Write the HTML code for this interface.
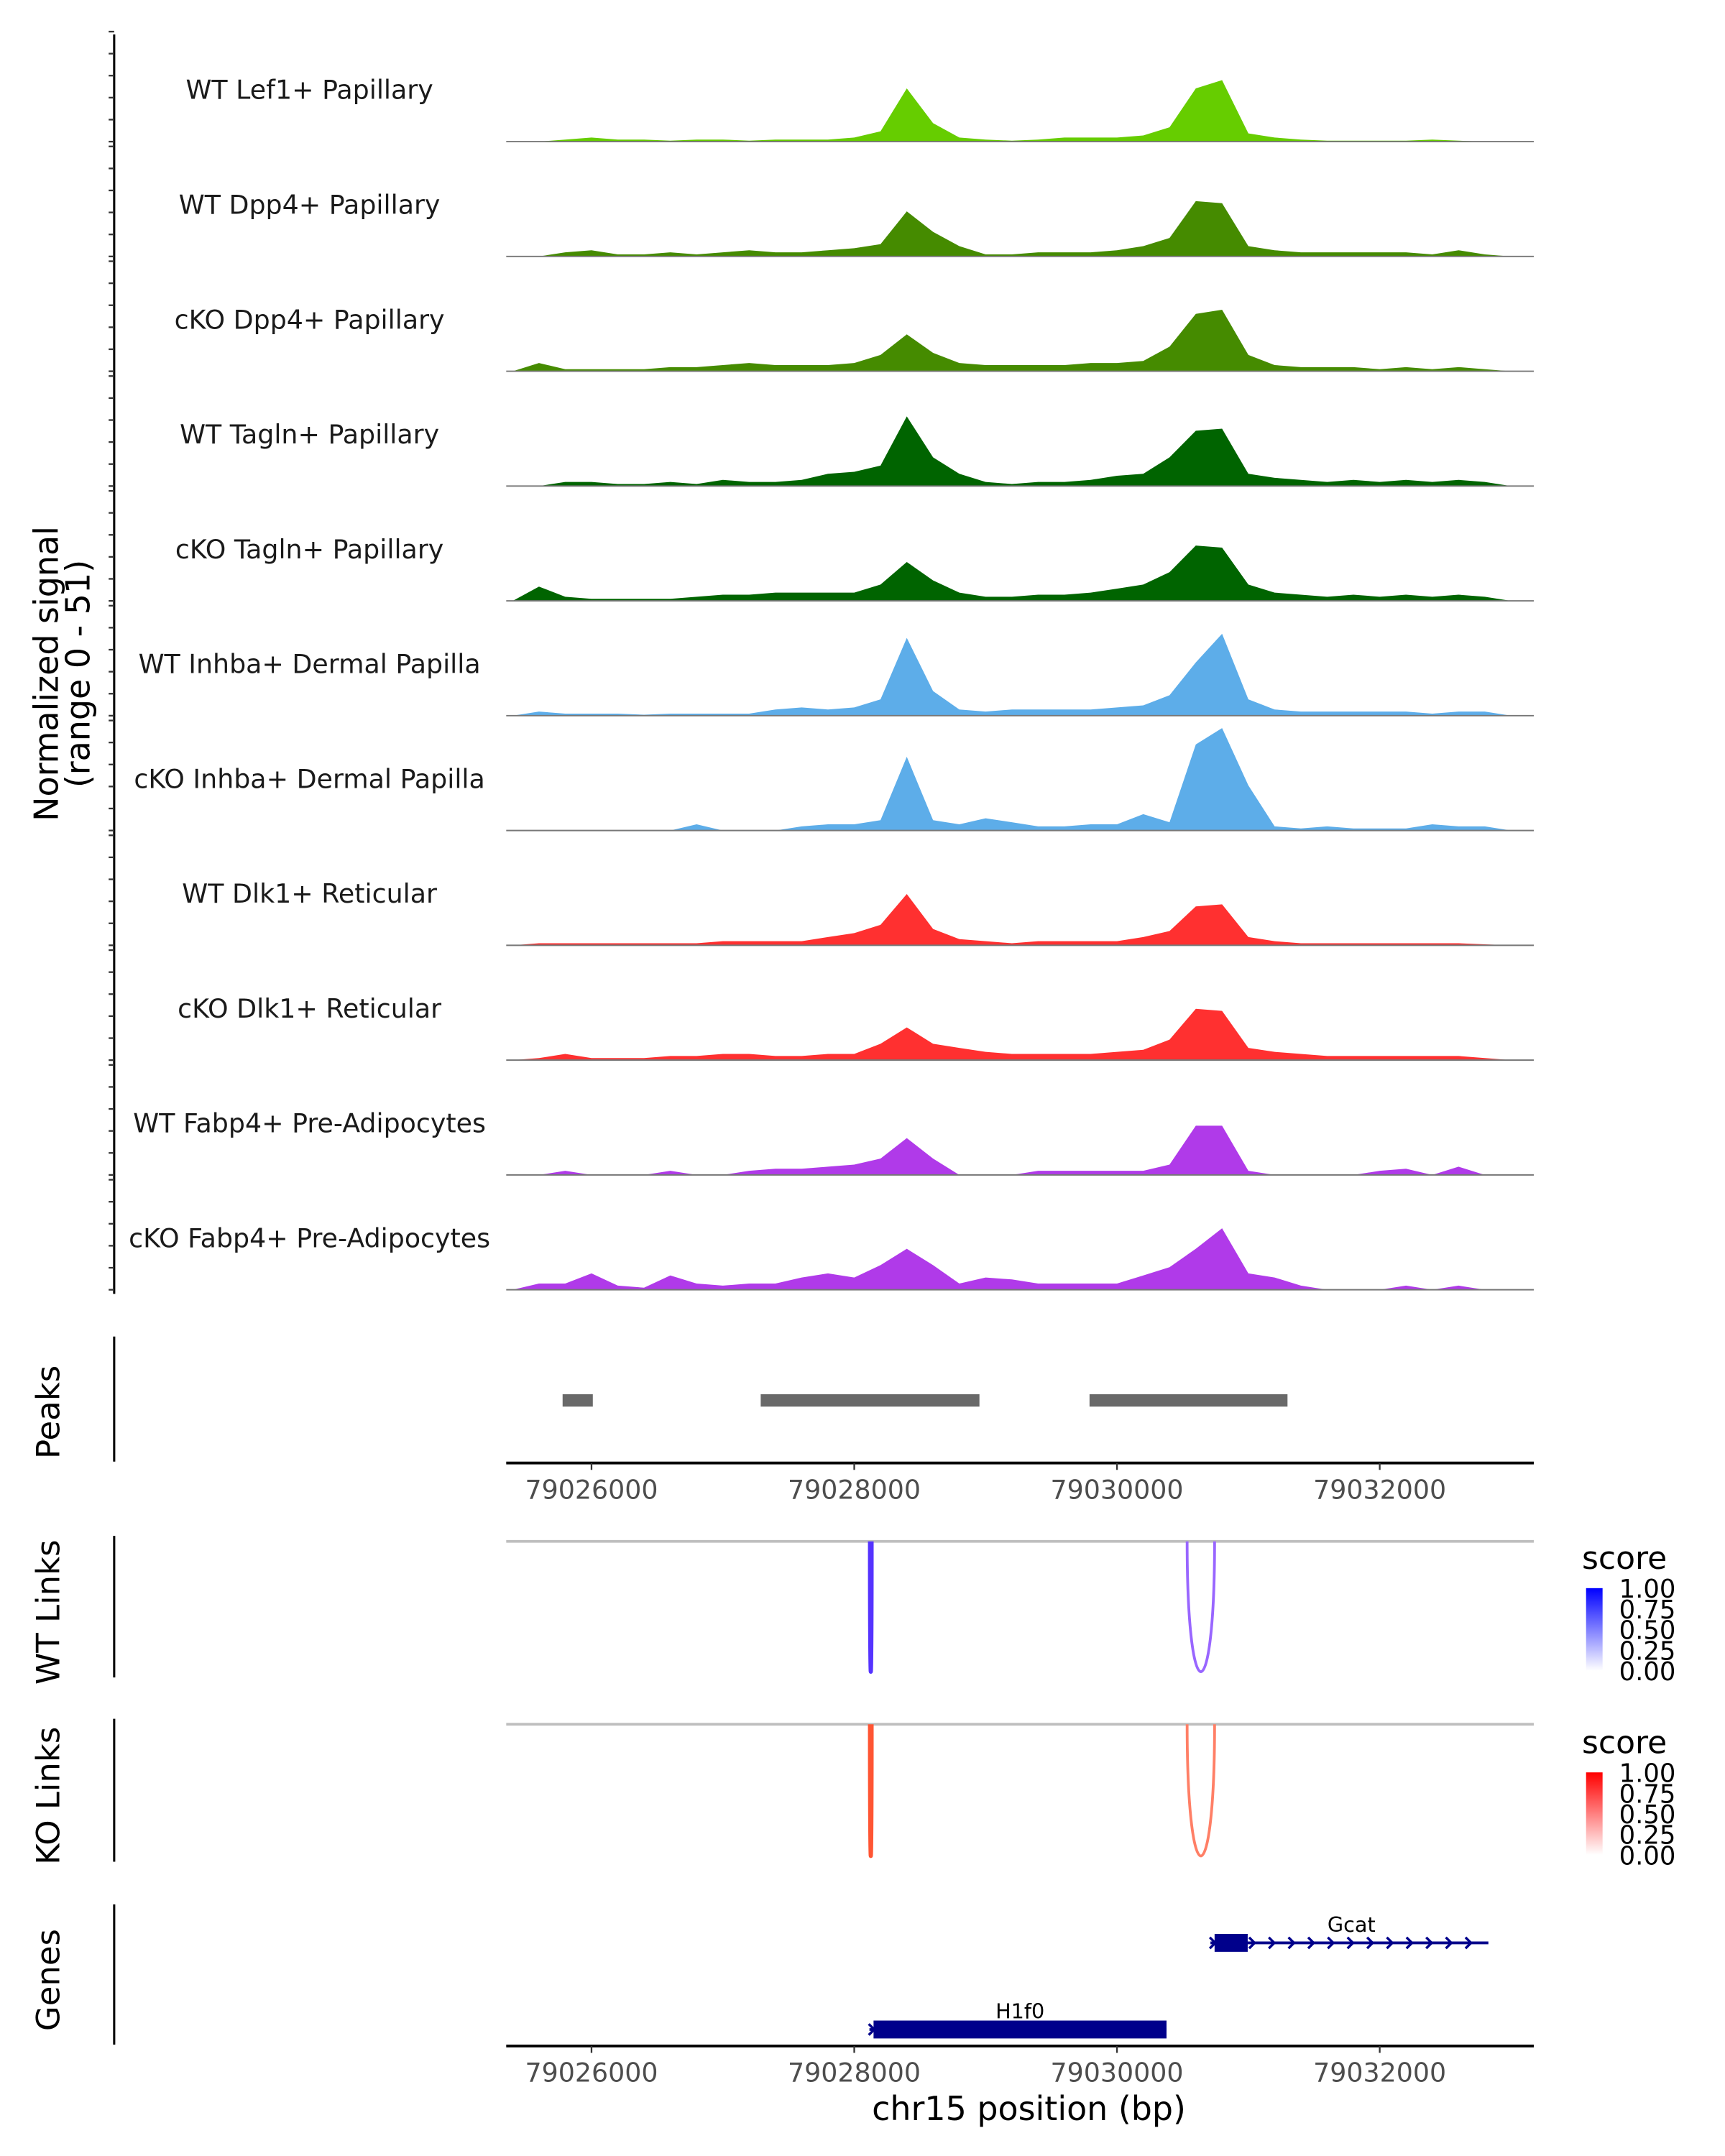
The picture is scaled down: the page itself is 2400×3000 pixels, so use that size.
<!DOCTYPE html>
<html><head><meta charset="utf-8">
<style>
html,body{margin:0;padding:0;background:#fff;}
svg{display:block;font-family:"DejaVu Sans","Liberation Sans",sans-serif;}
</style></head>
<body>
<svg id="chart" width="2400" height="3000" viewBox="0 0 1254 1568" preserveAspectRatio="none" xmlns="http://www.w3.org/2000/svg"></svg>
<script>
// ---- data ----
const binStart = 79025400;
const binSize = 200;
const trackNames = ["WT Lef1+ Papillary","WT Dpp4+ Papillary","cKO Dpp4+ Papillary","WT Tagln+ Papillary","cKO Tagln+ Papillary","WT Inhba+ Dermal Papilla","cKO Inhba+ Dermal Papilla","WT Dlk1+ Reticular","cKO Dlk1+ Reticular","WT Fabp4+ Pre-Adipocytes","cKO Fabp4+ Pre-Adipocytes"];
const trackColors = ["#66cd00","#458b00","#458b00","#006400","#006400","#5dade9","#5dade9","#ff3030","#ff3030","#b03ae9","#b03ae9"];
const sigLef1WT = [0,0,1,2,1,1,0.5,1,1,0.5,1,1,1,2,5,26,9,2,1,0.5,1,2,2,2,3,7,26,30,4,2,1,0.5,0.5,0.5,0.5,1,0.5,0,0];
const sigDpp4WT = [0,0,2,3,1,1,2,1,2,3,2,2,3,4,6,22,12,5,1,1,2,2,2,3,5,9,27,26,5,3,2,2,2,2,2,1,3,1,0];
const sigDpp4KO = [0,4,1,1,1,1,2,2,3,4,3,3,3,4,8,18,9,4,3,3,3,3,4,4,5,12,28,30,8,3,2,2,2,1,2,1,2,1,0];
const sigTaglnWT = [0,0,2,2,1,1,2,1,3,2,2,3,6,7,10,34,14,6,2,1,2,2,3,5,6,14,27,28,6,4,3,2,3,2,3,2,3,2,0];
const sigTaglnKO = [0,7,2,1,1,1,1,2,3,3,4,4,4,4,8,19,10,4,2,2,3,3,4,6,8,14,27,26,8,4,3,2,3,2,3,2,3,2,0];
const sigInhbaWT = [0,2,1,1,1,0.5,1,1,1,1,3,4,3,4,8,38,12,3,2,3,3,3,3,4,5,10,26,40,8,3,2,2,2,2,2,1,2,2,0];
const sigInhbaKO = [0,0,0,0,0,0,0,3,0,0,0,2,3,3,5,36,5,3,6,4,2,2,3,3,8,4,42,50,22,2,1,2,1,1,1,3,2,2,0];
const sigDlk1WT = [0,1,1,1,1,1,1,1,2,2,2,2,4,6,10,25,8,3,2,1,2,2,2,2,4,7,19,20,4,2,1,1,1,1,1,1,1,0.5,0];
const sigDlk1KO = [0,1,3,1,1,1,2,2,3,3,2,2,3,3,8,16,8,6,4,3,3,3,3,4,5,10,25,24,6,4,3,2,2,2,2,2,2,1,0];
const sigFabp4WT = [0,0,2,0,0,0,2,0,0,2,3,3,4,5,8,18,8,0,0,0,2,2,2,2,2,5,24,24,2,0,0,0,0,2,3,0,4,0,0];
const sigFabp4KO = [0,3,3,8,2,1,7,3,2,3,3,6,8,6,12,20,12,3,6,5,3,3,3,3,7,11,20,30,8,6,2,0,0,0,2,0,2,0,0];
const signals = [sigLef1WT,sigDpp4WT,sigDpp4KO,sigTaglnWT,sigTaglnKO,sigInhbaWT,sigInhbaKO,sigDlk1WT,sigDlk1KO,sigFabp4WT,sigFabp4KO];
const peakStarts = [79025780,79027288,79029791];
const peakEnds = [79026010,79028953,79031298];
const xTicks = [79026000,79028000,79030000,79032000];
const linkStarts = [79028120,79030534];
const linkEnds = [79028132,79030743];
const wtScores = [0.9,0.6];
const koScores = [0.8,0.6];
const geneNames = ["Gcat","H1f0"];
const geneStarts = [79030743,79028147];
const geneEnds = [79032827,79030377];
const exonEnds = [79030995,79030377];
const legendLabels = ["1.00","0.75","0.50","0.25","0.00"];

// ---- scales ----
const X0 = 79026000, PX0 = 430, PXPB = 0.0955;
const xs = bp => PX0 + (bp - X0) * PXPB;
const plotL = 368, plotR = 1115;
const trackBase0 = 103, trackStep = 83.5, yMax = 51, trackH = 76;
const ys = (v, base) => base - v / yMax * trackH;

const svg = document.getElementById('chart');
const NS = 'http://www.w3.org/2000/svg';
function mk(tag, attrs, parent) {
  const e = document.createElementNS(NS, tag);
  for (const k in attrs) e.setAttribute(k, attrs[k]);
  (parent || svg).appendChild(e);
  return e;
}
function txt(s, attrs, parent) { const e = mk('text', attrs, parent); e.textContent = s; return e; }

// ---- signal tracks ----
let el;
el = mk('line', {x1:83, y1:25, x2:83, y2:941, stroke:'#000', 'stroke-width':1.6});


trackNames.forEach((name, t) => {
  const base = trackBase0 + t * trackStep;
  for (let k = 0; k <= 5; k++) {
    const tk = mk('line', {x1:79, y1:base - k * 16, x2:83, y2:base - k * 16, stroke:'#333', 'stroke-width':1.2});
    
    
  }
  const lab = txt(name, {x:225, y:base - 31, 'text-anchor':'middle', 'font-size':19, fill:'#1a1a1a'});
  
  
  const vals = signals[t];
  let d = 'M' + xs(binStart).toFixed(1) + ',' + base;
  vals.forEach((v, i) => { d += ' L' + xs(binStart + i * binSize).toFixed(1) + ',' + ys(v, base).toFixed(1); });
  d += ' L' + xs(binStart + (vals.length - 1) * binSize).toFixed(1) + ',' + base + ' Z';
  const area = mk('path', {d:d, fill:trackColors[t]});
  
  
  const bl = mk('line', {x1:plotL, y1:base, x2:plotR, y2:base, stroke:'#777', 'stroke-width':1});
  
  
});
el = txt('Normalized signal', {transform:'translate(42,490) rotate(-90)', 'text-anchor':'middle', 'font-size':24});


el = txt('(range 0 - 51)', {transform:'translate(65,490) rotate(-90)', 'text-anchor':'middle', 'font-size':24});



// ---- peaks ----
el = mk('line', {x1:83, y1:972, x2:83, y2:1063, stroke:'#000', 'stroke-width':1.6});


el = txt('Peaks', {transform:'translate(43,1027) rotate(-90)', 'text-anchor':'middle', 'font-size':23.5});


peakStarts.forEach((s, i) => {
  const r = mk('rect', {x:xs(s), y:1014, width:xs(peakEnds[i]) - xs(s), height:9, fill:'#696969'});
  
  
});
function xAxis(y, name) {
  const a = mk('line', {x1:plotL, y1:y, x2:plotR, y2:y, stroke:'#000', 'stroke-width':2});
  
  
  xTicks.forEach(v => {
    const tk = mk('line', {x1:xs(v), y1:y, x2:xs(v), y2:y + 5, stroke:'#333', 'stroke-width':1.2});
    
    
    const tl = txt(String(v), {x:xs(v), y:y + 26, 'text-anchor':'middle', 'font-size':19, fill:'#4d4d4d'});
    
    
  });
}
xAxis(1064, 'peaks-x-axis');

// ---- links ----
function linkPanel(y0, h, axisTitle, scores, colHi, colLo, gradId, legY) {
  const ax = mk('line', {x1:83, y1:y0 - 4, x2:83, y2:y0 + h + 4, stroke:'#000', 'stroke-width':1.6});
  
  
  const ti = txt(axisTitle, {transform:'translate(43,' + (y0 + h / 2 + 4) + ') rotate(-90)', 'text-anchor':'middle', 'font-size':23.5});
  
  
  const gl = mk('line', {x1:plotL, y1:y0, x2:plotR, y2:y0, stroke:'#bebebe', 'stroke-width':2});
  
  
  linkStarts.forEach((s, i) => {
    const x1 = xs(s), x2 = xs(linkEnds[i]);
    const c = scores[i] > 0.7 ? colHi : colLo;
    const p = mk('path', {d:'M' + x1 + ',' + y0 + ' C' + x1 + ',' + (y0 + h * 1.33) + ' ' + x2 + ',' + (y0 + h * 1.33) + ' ' + x2 + ',' + y0, fill:'none', stroke:c, 'stroke-width':i === 0 ? 3 : 2});
    
    
  });
  const defs = mk('defs', {});
  const g = mk('linearGradient', {id:gradId, x1:0, y1:0, x2:0, y2:1}, defs);
  mk('stop', {offset:'0', 'stop-color':colHi === '#5533ff' ? '#0000ff' : '#ff0000'}, g);
  mk('stop', {offset:'1', 'stop-color':'#ffffff'}, g);
  const lt = txt('score', {x:1150, y:legY + 1, 'font-size':23});
  
  
  const bar = mk('rect', {x:1153, y:legY + 15, width:12, height:60, fill:'url(#' + gradId + ')'});
  
  
  legendLabels.forEach((l, k) => {
    const ll = txt(l, {x:1177, y:legY + 22 + k * 15, 'font-size':18.5});
    
    
  });
}
linkPanel(1121, 95, 'WT Links', wtScores, '#5533ff', '#9966ff', 'gradBlue', 1140);
linkPanel(1254, 96, 'KO Links', koScores, '#ff5533', '#ff7f66', 'gradRed', 1274);

// ---- genes ----
el = mk('line', {x1:83, y1:1385, x2:83, y2:1487, stroke:'#000', 'stroke-width':1.6});


el = txt('Genes', {transform:'translate(43,1440) rotate(-90)', 'text-anchor':'middle', 'font-size':23.5});


const geneRowY = [1413, 1476];
geneNames.forEach((n, i) => {
  const y = geneRowY[i], xa = xs(geneStarts[i]), xb = xs(geneEnds[i]);
  const ln = mk('line', {x1:xa - 3, y1:y, x2:xb, y2:y, stroke:'#00008b', 'stroke-width':2});
  
  
  for (let cx = xa - 1; cx <= xb; cx += 14.3) {
    const ch = mk('path', {d:'M' + (cx - 2.5) + ',' + (y - 4) + ' L' + (cx + 1.5) + ',' + y + ' L' + (cx - 2.5) + ',' + (y + 4), fill:'none', stroke:'#00008b', 'stroke-width':1.8});
    
    
  }
  const ex = mk('rect', {x:xa, y:y - 6.5, width:xs(exonEnds[i]) - xa, height:13, fill:'#00008b'});
  
  
  const gl = txt(n, {x:(xa + xb) / 2, y:y - 8, 'text-anchor':'middle', 'font-size':15});
  
  
});
xAxis(1488, 'genes-x-axis');
el = txt('chr15 position (bp)', {x:748, y:1542, 'text-anchor':'middle', 'font-size':24});


</script>
</body></html>
